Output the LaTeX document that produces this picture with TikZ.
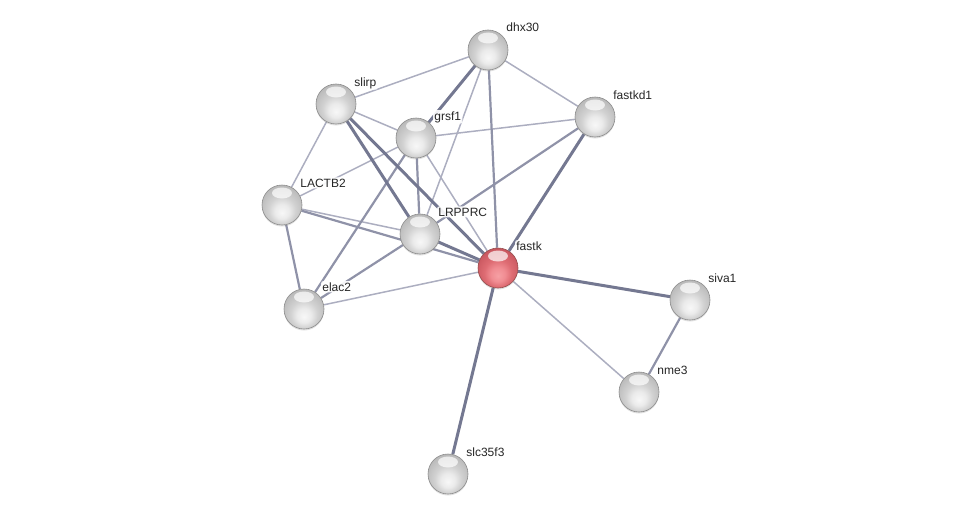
\documentclass[tikz,border=0pt]{standalone}
\usepackage{fontspec}
\setmainfont{Liberation Sans}
\usetikzlibrary{backgrounds,shadows,calc}

\definecolor{edgelight}{RGB}{172,174,192}
\definecolor{edgemid}{RGB}{143,146,168}
\definecolor{edgedark}{RGB}{116,120,145}

% glossy balls, bright towards the bottom
\pgfdeclareradialshading{glossgray}{\pgfpoint{0bp}{-10bp}}{color(0bp)=(white!97!black); color(9bp)=(white!92!black); color(17bp)=(white!82!black); color(27bp)=(white!74!black); color(35bp)=(white!68!black); color(50bp)=(white!68!black)}
\pgfdeclareradialshading{glossred}{\pgfpoint{0bp}{-10bp}}{color(0bp)=(rgb,255:red,246;green,160;blue,164); color(9bp)=(rgb,255:red,240;green,140;blue,146); color(17bp)=(rgb,255:red,222;green,108;blue,115); color(27bp)=(rgb,255:red,204;green,90;blue,98); color(35bp)=(rgb,255:red,186;green,76;blue,84); color(50bp)=(rgb,255:red,186;green,76;blue,84)}

\tikzset{
  prot/.style={circle, minimum size=40pt, inner sep=0pt, draw=black!45, line width=0.6pt,
    shading=glossgray,
    drop shadow={shadow xshift=0pt, shadow yshift=-1.5pt, opacity=.25},
    path picture={\fill[white, opacity=.7] ($(path picture bounding box.north)+(0,-8pt)$) ellipse (10pt and 5.5pt);}},
  query/.style={prot, shading=glossred, draw=red!40!black!70},
  lbl/.style={anchor=base west, inner sep=1.2pt, rounded corners=2pt, fill=white, fill opacity=.9,
    text opacity=1, text=black!85, font=\fontsize{12pt}{14pt}\selectfont},
  e1/.style={edgelight, line width=1.5pt},
  e2/.style={edgemid, line width=2.2pt},
  e3/.style={edgedark, line width=3pt}
}

\begin{document}
\begin{tikzpicture}[x=1pt, y=-1pt]
\useasboundingbox (0,0) rectangle (976,519);

% proteins
\foreach \name/\x/\y in {dhx30/488/50, slirp/336/104, grsf1/416/138, fastkd1/595/117,
  LACTB2/282/205, LRPPRC/420/234, elac2/304/309, siva1/690/300, nme3/639/392, slc35f3/448/474}
{
  \node[prot] (\name) at (\x,\y) {};
  \node[lbl] (\name-lbl) at (\x+17,\y-18) {\name};
}

% query protein
\node[query] (fastk) at (498,268) {};
\node[lbl] (fastk-lbl) at (515,250) {fastk};

% interactions
\begin{scope}[on background layer]
\foreach \a/\b in {slirp/dhx30, dhx30/LRPPRC, dhx30/fastkd1, slirp/grsf1, slirp/LACTB2,
  grsf1/fastkd1, grsf1/LACTB2, grsf1/fastk, LACTB2/LRPPRC, elac2/fastk, fastk/nme3}
  \draw[e1] (\a) -- (\b);
\foreach \a/\b in {dhx30/fastk, grsf1/LRPPRC, grsf1/elac2, fastkd1/LRPPRC, LACTB2/fastk,
  LACTB2/elac2, LRPPRC/elac2, siva1/nme3}
  \draw[e2] (\a) -- (\b);
\foreach \a/\b in {dhx30/grsf1, slirp/LRPPRC, slirp/fastk, fastkd1/fastk, LRPPRC/fastk,
  fastk/siva1, fastk/slc35f3}
  \draw[e3] (\a) -- (\b);
\end{scope}

\end{tikzpicture}
\end{document}
